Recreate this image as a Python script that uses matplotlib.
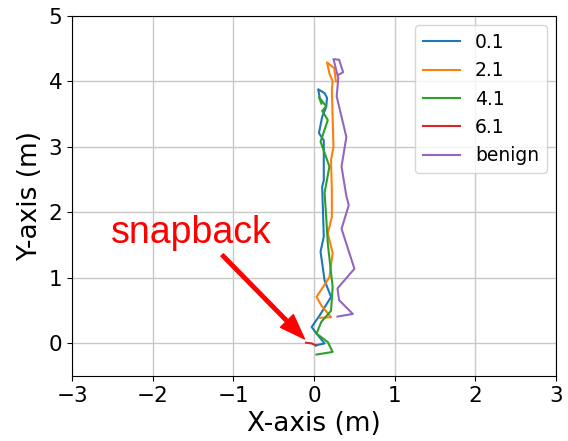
import matplotlib
matplotlib.use("Agg")
import matplotlib.pyplot as plt

# trajectories (x, y) in metres
x_01 = [0.02, 0.13, 0.03, -0.03, 0.07, 0.21, 0.13, 0.08, 0.12, 0.10, 0.12, 0.12, 0.06, 0.10, 0.15, 0.16, 0.13, 0.05, 0.07]
y_01 = [-0.03, 0.00, 0.15, 0.25, 0.43, 0.71, 0.96, 1.40, 1.63, 2.39, 2.49, 3.10, 3.21, 3.46, 3.61, 3.75, 3.82, 3.88, 3.75]

x_21 = [0.07, 0.21, 0.09, 0.03, 0.19, 0.23, 0.17, 0.22, 0.22, 0.21, 0.24, 0.22, 0.23, 0.19, 0.16, 0.25, 0.27]
y_21 = [0.39, 0.40, 0.58, 0.71, 1.01, 1.38, 1.68, 1.93, 2.34, 2.80, 3.00, 3.87, 4.00, 4.12, 4.29, 4.20, 4.00]

x_41 = [0.03, 0.23, 0.17, 0.03, 0.09, 0.21, 0.23, 0.17, 0.15, 0.13, 0.19, 0.08, 0.17, 0.10, 0.15, 0.06, 0.09]
y_41 = [-0.17, -0.13, 0.02, 0.15, 0.33, 0.50, 0.86, 1.52, 1.93, 2.30, 2.70, 3.08, 3.41, 3.55, 3.62, 3.76, 3.66]

x_61 = [-0.10, -0.03, 0.02]
y_61 = [0.01, 0.00, -0.03]

x_benign = [0.29, 0.48, 0.31, 0.29, 0.50, 0.34, 0.43, 0.40, 0.34, 0.40, 0.28, 0.30, 0.24, 0.31, 0.36, 0.30]
y_benign = [0.41, 0.45, 0.66, 0.84, 1.14, 1.75, 2.11, 2.25, 2.70, 3.15, 3.77, 4.05, 4.34, 4.33, 4.14, 4.10]

labels = ["0.1", "2.1", "4.1", "6.1", "benign"]
xs = [x_01, x_21, x_41, x_61, x_benign]
ys = [y_01, y_21, y_41, y_61, y_benign]

fig = plt.figure(figsize=(5.68, 4.41), dpi=100)
ax = fig.add_axes([0.127, 0.147, 0.852, 0.817])

for x, y, lab in zip(xs, ys, labels):
    ax.plot(x, y, linewidth=1.5, label=lab)

ax.set_xlim(-3, 3)
ax.set_ylim(-0.5, 5)
ax.set_xticks([-3, -2, -1, 0, 1, 2, 3])
ax.set_yticks([0, 1, 2, 3, 4, 5])
ax.tick_params(labelsize=15.5)
ax.set_xlabel("X-axis (m)", fontsize=19)
ax.set_ylabel("Y-axis (m)", fontsize=19)
ax.grid(True, color="#c8c8c8", linewidth=1)
ax.set_axisbelow(True)
ax.legend(loc="upper right", fontsize=13.5)

# snapback annotation
ax.text(-2.52, 1.53, "snapback", color="red", fontsize=27, family="Liberation Sans")
ax.annotate("", xy=(-0.12, 0.07), xytext=(-1.14, 1.35),
            arrowprops=dict(color="red", width=2.5, headwidth=13, headlength=18))

fig.savefig("out.png", dpi=100)
